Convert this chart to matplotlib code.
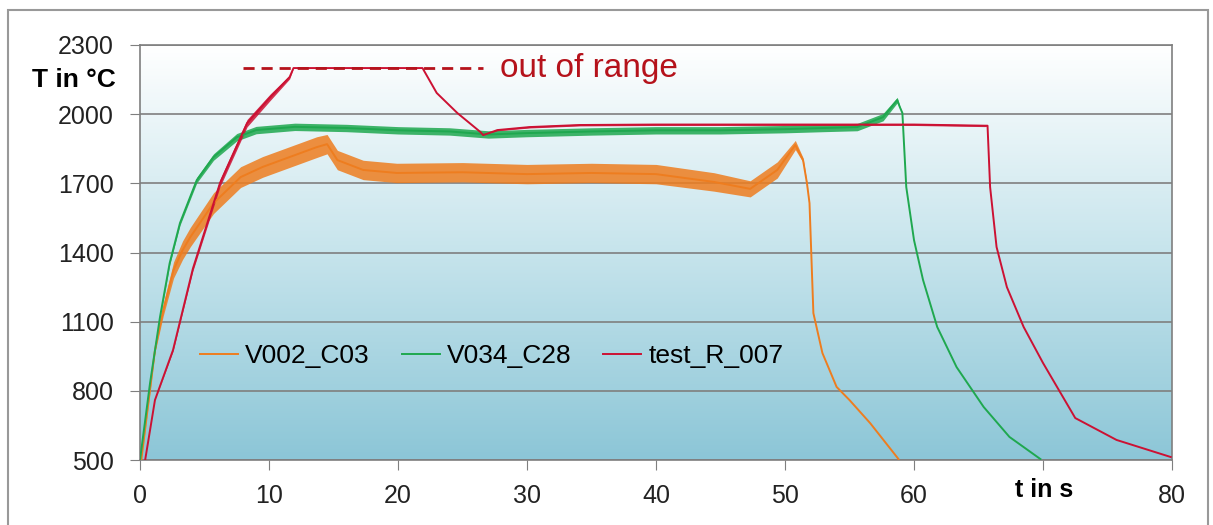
import numpy as np
import matplotlib
matplotlib.use("Agg")
import matplotlib.pyplot as plt
from matplotlib.colors import LinearSegmentedColormap
from matplotlib.patches import Rectangle

plt.rcParams['font.family'] = ['Liberation Sans', 'DejaVu Sans']

#------------------------------DATA----------------------
# V002_C03 (orange)
t_v002 = [0.1, 1.16, 1.8, 2.6, 3.3, 3.9, 5.7, 7.8, 9.5, 11.6, 13.7, 14.5, 15.3, 17.3,
          19.9, 25, 30, 35, 40, 44.5, 47.3, 49.4, 50.8, 51.4, 51.7, 51.9, 52.2, 52.9,
          54.0, 55.0, 56.6, 58.8]
T_v002 = [500, 977, 1150, 1324, 1410, 1467, 1614, 1727, 1771, 1814, 1857, 1870, 1801, 1758,
          1745, 1748, 1740, 1745, 1740, 1706, 1676, 1758, 1866, 1801, 1701, 1614, 1137, 964,
          817, 760, 660, 504]
# half width of the noise band
s_v002 = [0, 10, 25, 35, 40, 42, 45, 45, 45, 45, 45, 42, 42, 42,
          42, 42, 42, 42, 42, 40, 35, 35, 20, 10, 5, 0, 0, 0,
          0, 0, 0, 0]

# V034_C28 (green)
t_v034 = [0, 0.78, 1.55, 2.3, 3.1, 4.4, 5.7, 7.5, 9.0, 12, 16, 20, 24, 27, 30, 35,
          40, 45, 50, 53, 55.6, 57.6, 58.7, 58.9, 59.1, 59.4, 60.0, 60.7, 61.8, 63.3,
          65.4, 67.4, 69.8]
T_v034 = [500, 834, 1120, 1354, 1528, 1714, 1814, 1900, 1931, 1945, 1940, 1930, 1925, 1912,
          1918, 1925, 1930, 1930, 1935, 1940, 1944, 1987, 2061, 2031, 2005, 1684, 1454, 1281,
          1077, 903, 730, 600, 504]
s_v034 = [0, 0, 5, 8, 10, 12, 14, 16, 16, 16, 16, 16, 16, 16,
          16, 16, 16, 16, 16, 16, 16, 16, 12, 5, 0, 0, 0, 0,
          0, 0, 0, 0, 0]

# test_R_007 (red)
t_r007 = [0.4, 1.16, 2.56, 4.1, 6.2, 8.3, 10.1, 11.6, 11.9, 21.9, 23.0, 24.6, 26.4, 26.6,
          27.7, 30.2, 34.1, 40, 50, 60, 65.5, 65.7, 65.9, 66.4, 67.2, 68.5, 70.0, 72.5,
          75.7, 79.9]
T_r007 = [500, 760, 977, 1330, 1701, 1961, 2074, 2161, 2200, 2200, 2092, 2005, 1922, 1909,
          1931, 1944, 1953, 1955, 1955, 1955, 1950, 1950, 1684, 1424, 1250, 1077, 921, 682,
          587, 513]
s_r007 = [0, 0, 5, 10, 16, 16, 14, 8, 0, 0, 0, 0, 0, 0,
          3, 4, 4, 4, 4, 4, 4, 0, 0, 0, 0, 0, 0, 0,
          0, 0]

out_of_range = 2200
out_of_range_t = [8.0, 26.6]

x_ticks = [0, 10, 20, 30, 40, 50, 60, 70, 80]
x_labels = ['0', '10', '20', '30', '40', '50', '60', '', '80']
y_ticks = [500, 800, 1100, 1400, 1700, 2000, 2300]
#---------------------------------END DATA-------------------------------------

c_orange = '#ee7d1f'
c_green = '#1fa84f'
c_red = '#cc1133'
c_text_red = '#b5121b'
c_grid = '#7f7f7f'

fig = plt.figure(figsize=(12.13, 5.25), dpi=100)
ax = fig.add_axes([140/1213, 65/525, 1032/1213, 415/525])

# gradient background (white top, light blue bottom)
cmap = LinearSegmentedColormap.from_list('bg', ['#8cc6d7', '#c6e4ec', '#ffffff'])
grad = np.linspace(0, 1, 256).reshape(-1, 1)
ax.imshow(grad, cmap=cmap, origin='lower', aspect='auto',
          extent=[0, 80, 500, 2300], zorder=0)

for y in y_ticks:
    ax.axhline(y, color=c_grid, lw=1.2, zorder=1)

series = [(t_v002, T_v002, s_v002, c_orange, 'V002_C03'),
          (t_v034, T_v034, s_v034, c_green, 'V034_C28'),
          (t_r007, T_r007, s_r007, c_red, 'test_R_007')]

for t, T, s, c, name in series:
    T = np.array(T)
    s = np.array(s)
    ax.fill_between(t, T - s, T + s, color=c, alpha=0.85, lw=0, zorder=2)
    ax.plot(t, T, color=c, lw=1.4, label=name, zorder=3)

ax.plot(out_of_range_t, [out_of_range, out_of_range], color=c_text_red, lw=2,
        ls=(0, (4, 2.5)), zorder=4)
ax.text(27.9, out_of_range, 'out of range', color=c_text_red, fontsize=24,
        va='center', ha='left')

ax.set_xlim(0, 80)
ax.set_ylim(500, 2300)
ax.set_xticks(x_ticks)
ax.set_xticklabels(x_labels)
ax.set_yticks(y_ticks)
ax.tick_params(axis='both', labelsize=18, colors=c_grid, labelcolor='#222222', length=7)
ax.tick_params(axis='x', pad=10)
ax.tick_params(axis='y', pad=12)
for sp in ax.spines.values():
    sp.set_color(c_grid)
    sp.set_linewidth(1.2)

leg = ax.legend(loc='center left', bbox_to_anchor=(0.035, 0.25), ncol=3, frameon=False,
                fontsize=19, handlelength=1.45, handletextpad=0.27, columnspacing=1.2)

fig.text(74/1213, 1 - 80/525, 'T in °C', fontsize=19, fontweight='bold',
         ha='center', va='center')
fig.text(1044/1213, 1 - 490/525, 't in s', fontsize=18, fontweight='bold',
         ha='center', va='center')

# outer chart frame
fig.patches.append(Rectangle((8/1213, -0.05), 1200/1213, 1.05 - 10/525,
                             transform=fig.transFigure, fill=False,
                             edgecolor='#999999', lw=1.5))

fig.savefig('out.png', dpi=100)
